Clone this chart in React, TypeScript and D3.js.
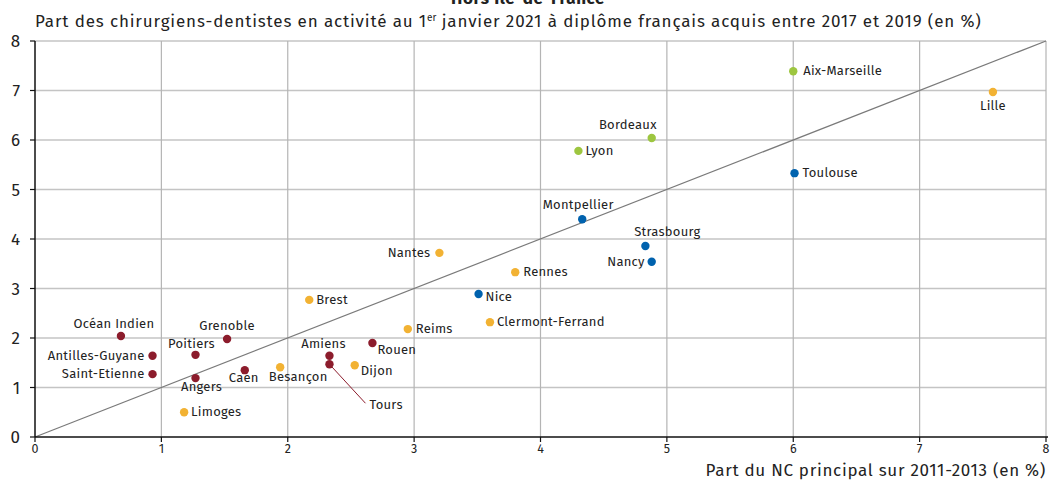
import React from "react";
import * as d3 from "d3";

const names = ["Aix-Marseille","Lille","Bordeaux","Lyon","Toulouse","Montpellier","Strasbourg","Nancy","Nantes","Rennes","Nice","Brest","Reims","Clermont-Ferrand","Océan Indien","Grenoble","Antilles-Guyane","Poitiers","Saint-Etienne","Angers","Caen","Besançon","Amiens","Tours","Rouen","Dijon","Limoges"];
const xValues = [6.0,7.58,4.88,4.3,6.01,4.33,4.83,4.88,3.2,3.8,3.51,2.17,2.95,3.6,0.68,1.52,0.93,1.27,0.93,1.27,1.66,1.94,2.33,2.33,2.67,2.53,1.18];
const yValues = [7.39,6.97,6.04,5.78,5.33,4.4,3.86,3.54,3.72,3.33,2.89,2.77,2.18,2.32,2.04,1.98,1.64,1.66,1.27,1.19,1.35,1.41,1.64,1.47,1.9,1.45,0.5];
const groups = ["g","o","g","g","b","b","b","b","o","o","b","o","o","o","r","r","r","r","r","r","r","o","r","r","r","o","o"];
const xTicks = [0,1,2,3,4,5,6,7,8];
const yTicks = [0,1,2,3,4,5,6,7,8];

const colors: Record<string,string> = { g: "#9dc640", o: "#f2b233", b: "#0062ae", r: "#8c1c2c" };

// label placement: [anchor, dx, dy]
const labelPos: Record<string,[string,number,number]> = {
  "Aix-Marseille": ["start", 10, 4],
  "Lille": ["middle", 0, 18],
  "Bordeaux": ["end", 5, -9],
  "Lyon": ["start", 7, 4],
  "Toulouse": ["start", 8, 4],
  "Montpellier": ["middle", -4, -10],
  "Strasbourg": ["middle", 22, -10],
  "Nancy": ["end", -7, 4],
  "Nantes": ["end", -9, 4],
  "Rennes": ["start", 8, 4],
  "Nice": ["start", 7, 7],
  "Brest": ["start", 7, 4],
  "Reims": ["start", 8, 4],
  "Clermont-Ferrand": ["start", 7, 4],
  "Océan Indien": ["middle", -7, -8],
  "Grenoble": ["middle", 0, -9],
  "Antilles-Guyane": ["end", -8, 4],
  "Poitiers": ["middle", -4, -7],
  "Saint-Etienne": ["end", -8, 4],
  "Angers": ["middle", 6, 13],
  "Caen": ["middle", -1, 12],
  "Besançon": ["middle", 18, 14],
  "Amiens": ["middle", -6, -8],
  "Tours": ["start", 40, 45],
  "Rouen": ["start", 5, 11],
  "Dijon": ["start", 6, 10],
  "Limoges": ["start", 7, 4],
};

const W = 1055, H = 483;
const font = "'Fira Sans', 'Noto Sans', sans-serif";

export default function App() {
  const x = d3.scaleLinear().domain([0, 8]).range([35, 1046]);
  const y = d3.scaleLinear().domain([0, 8]).range([437, 41]);
  const diag = d3.line<number>().x(d => x(d)).y(d => y(d));
  return (
    <svg width={W} height={H} style={{ position: "absolute", left: 0, top: 0, fontFamily: font }}>
      <rect width={W} height={H} fill="#fff" />
      <text x={528} y={4} textAnchor="middle" fontWeight="bold" fontSize={17} letterSpacing={0.6} fill="#222">Hors Île-de-France</text>
      <text x={35} y={27} fontSize={17} letterSpacing={0.85} fill="#222">
        Part des chirurgiens-dentistes en activité au 1<tspan fontSize={10} dy={-6} letterSpacing={0}>er</tspan><tspan dy={6}> janvier 2021 à diplôme français acquis entre 2017 et 2019 (en %)</tspan>
      </text>
      {yTicks.filter(t => t > 0).map(t => (
        <line key={"h" + t} x1={x(0)} x2={x(8)} y1={y(t)} y2={y(t)} stroke="#c4c4c4" strokeWidth={1.3} />
      ))}
      {xTicks.filter(t => t > 0).map(t => (
        <line key={"v" + t} x1={x(t)} x2={x(t)} y1={y(0)} y2={y(8)} stroke="#b4b4b4" strokeWidth={1.2} />
      ))}
      <path d={diag([0, 8]) || ""} stroke="#7a7a7a" strokeWidth={1.2} fill="none" />
      <line x1={x(0)} x2={x(0)} y1={y(0)} y2={y(8)} stroke="#111" strokeWidth={1.5} />
      <line x1={x(0)} x2={x(8) + 2} y1={y(0)} y2={y(0)} stroke="#111" strokeWidth={1.5} />
      {yTicks.map(t => (
        <g key={"yt" + t}>
          <line x1={x(0) - 5} x2={x(0)} y1={y(t)} y2={y(t)} stroke="#111" strokeWidth={1.2} />
          <text x={20} y={y(t) + 6} textAnchor="end" fontSize={17} fill="#222">{t}</text>
        </g>
      ))}
      {xTicks.map(t => (
        <g key={"xt" + t}>
          <line x1={x(t)} x2={x(t)} y1={y(0)} y2={y(0) + 5} stroke="#111" strokeWidth={1.2} />
          <text x={x(t)} y={453} textAnchor="middle" fontSize={12.5} fill="#222">{t}</text>
        </g>
      ))}
      <text x={1046} y={476} textAnchor="end" fontSize={17} letterSpacing={0.7} fill="#222">Part du NC principal sur 2011-2013 (en %)</text>
      {names.map((n, i) => {
        const px = x(xValues[i]), py = y(yValues[i]);
        const [anchor, dx, dy] = labelPos[n];
        return (
          <g key={n}>
            {n === "Tours" && <line x1={px} y1={py} x2={px + 36} y2={py + 39} stroke={colors.r} strokeWidth={1} />}
            <circle cx={px} cy={py} r={4.2} fill={colors[groups[i]]} />
            <text x={px + dx} y={py + dy} textAnchor={anchor} fontSize={13} letterSpacing={0.25} fill="#222">{n}</text>
          </g>
        );
      })}
    </svg>
  );
}
